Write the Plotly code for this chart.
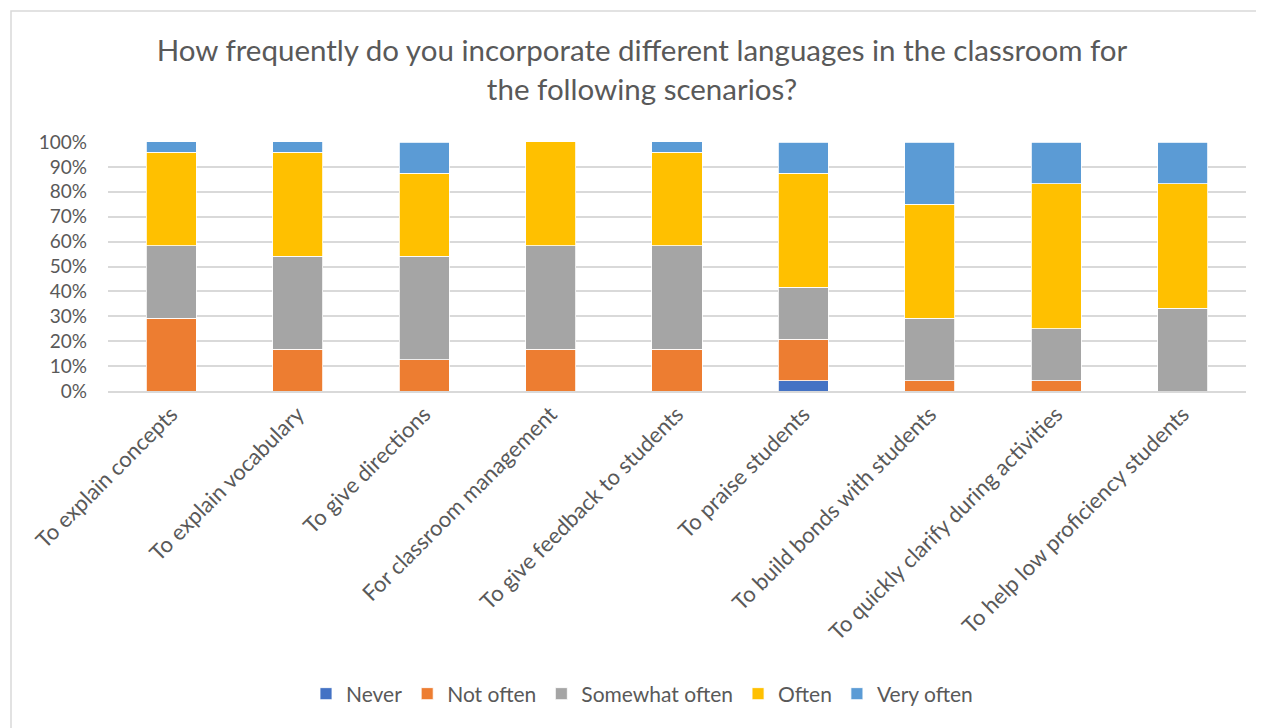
import plotly.graph_objects as go

categories = [
    "To explain concepts",
    "To explain vocabulary",
    "To give directions",
    "For classroom management",
    "To give feedback to students",
    "To praise students",
    "To build bonds with students",
    "To quickly clarify during activities",
    "To help low proficiency students",
]
series_names = ["Never", "Not often", "Somewhat often", "Often", "Very often"]
never = [0, 0, 0, 0, 0, 4.17, 0, 0, 0]
not_often = [29.17, 16.67, 12.5, 16.67, 16.67, 16.67, 4.17, 4.17, 0]
somewhat_often = [29.17, 37.5, 41.67, 41.67, 41.67, 20.83, 25.0, 20.83, 33.33]
often = [37.5, 41.67, 33.33, 41.67, 37.5, 45.83, 45.83, 58.33, 50.0]
very_often = [4.17, 4.17, 12.5, 0, 4.17, 12.5, 25.0, 16.67, 16.67]
series_values = [never, not_often, somewhat_often, often, very_often]
colors = ["#4472C4", "#ED7D31", "#A5A5A5", "#FFC000", "#5B9BD5"]
y_ticks = list(range(0, 101, 10))
y_tick_labels = [f"{v}%" for v in y_ticks]

FONT = "Lato"
GRAY = "#595959"

fig = go.Figure()
for name, vals, col in zip(series_names, series_values, colors):
    fig.add_trace(go.Bar(
        name=name, x=categories, y=vals,
        marker=dict(color=col, line=dict(color="#FFFFFF", width=0.8)),
    ))

# page body has an 8px margin, so figure coords = screen coords - 8
W, H = 1256, 720
L, R, T, B = 100, 1238, 134, 383
pw, ph = R - L, B - T

fig.update_layout(
    barmode="stack",
    bargap=0.604,
    width=W, height=H,
    margin=dict(l=L, r=W - R, t=T, b=H - B, autoexpand=False),
    paper_bgcolor="white", plot_bgcolor="white",
    font=dict(family=FONT, color=GRAY, size=18),
    title=dict(
        text="How frequently do you incorporate different languages in the classroom for<br>the following scenarios?",
        x=(642 - 8) / W, xanchor="center", y=0.926, yanchor="top",
        font=dict(family=FONT, size=29.5, color=GRAY),
    ),
    legend=dict(
        orientation="h", x=(642 - 8 - L) / pw, xanchor="center",
        y=(B - 686) / ph, yanchor="middle",
        font=dict(family=FONT, size=21, color=GRAY),
        traceorder="normal",
        itemclick=False,
    ),
    xaxis=dict(
        tickangle=-45, showgrid=False, showline=True,
        linecolor="#D9D9D9", linewidth=1.5,
        tickfont=dict(family=FONT, size=22, color=GRAY),
        ticks="",
    ),
    yaxis=dict(
        range=[0, 100], tickvals=y_ticks, ticktext=y_tick_labels,
        showgrid=True, gridcolor="#D9D9D9", gridwidth=1.5,
        zeroline=False, showline=False,
        tickfont=dict(family=FONT, size=19, color=GRAY),
        ticks="", ticklabelstandoff=20,
    ),
    shapes=[dict(
        type="rect", xref="paper", yref="paper",
        x0=(3 - L) / pw, x1=(1270 - L) / pw,
        y0=(B - 740) / ph, y1=(B - 3) / ph,
        line=dict(color="#D9D9D9", width=1.5), fillcolor="rgba(0,0,0,0)",
        layer="below",
    )],
)

fig.write_html("out.html")
